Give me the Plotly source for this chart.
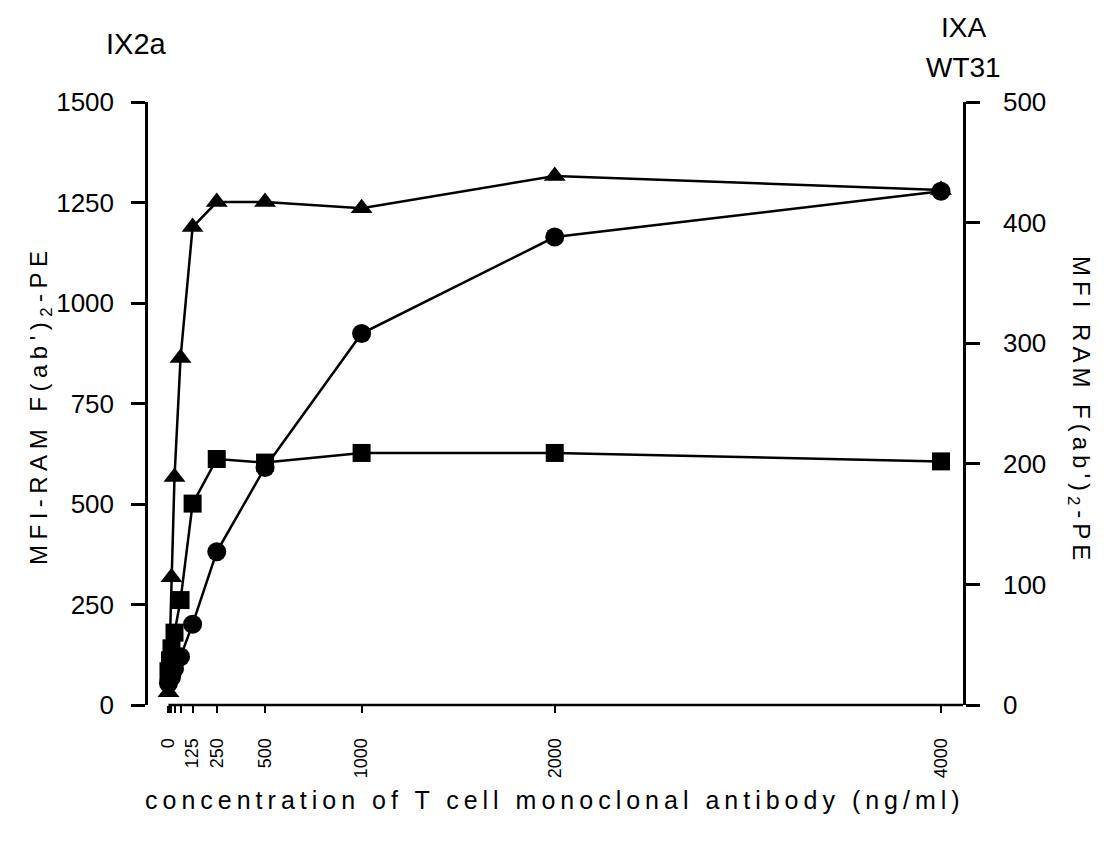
import plotly.graph_objects as go

# concentrations (ng/ml)
conc_tri = [0, 15.6, 31.25, 62.5, 125, 250, 500, 1000, 2000, 4000]
mfi_tri = [32, 318, 567, 863, 1189, 1251, 1251, 1236, 1316, 1281]          # left axis (IX2a)

conc_sq = [0, 7.8, 15.6, 31.25, 62.5, 125, 250, 500, 1000, 2000, 4000]
mfi_sq = [28, 37, 47, 60, 87, 167, 204, 201, 209, 209, 202]                 # right axis

conc_circ = [0, 15.6, 31.25, 62.5, 125, 250, 500, 1000, 2000, 4000]
mfi_circ = [18, 23, 30, 40, 67, 127, 197, 308, 388, 426]                     # right axis

x_major_ticks = [0, 125, 250, 500, 1000, 2000, 4000]
x_major_labels = ["0", "125", "250", "500", "1000", "2000", "4000"]
x_minor_ticks = [7.8, 15.6, 31.25, 62.5]
left_ticks = [0, 250, 500, 750, 1000, 1250, 1500]
right_ticks = [0, 100, 200, 300, 400, 500]

FONT = "Liberation Sans, Arial, sans-serif"


def spaced(t, ls):
    return f'<span style="letter-spacing:{ls}px">{t}</span>'


fig = go.Figure()
fig.add_trace(go.Scatter(x=conc_tri, y=mfi_tri, mode="lines+markers", yaxis="y",
                         line=dict(color="black", width=2.5),
                         marker=dict(symbol="triangle-up", size=19, color="black"),
                         showlegend=False))
fig.add_trace(go.Scatter(x=conc_sq, y=mfi_sq, mode="lines+markers", yaxis="y2",
                         line=dict(color="black", width=2.5),
                         marker=dict(symbol="square", size=18, color="black"),
                         showlegend=False))
fig.add_trace(go.Scatter(x=conc_circ, y=mfi_circ, mode="lines+markers", yaxis="y2",
                         line=dict(color="black", width=2.5),
                         marker=dict(symbol="circle", size=19, color="black"),
                         showlegend=False))

fig.update_layout(
    width=1096, height=836,
    margin=dict(l=140, r=141, t=94, b=139),
    paper_bgcolor="white", plot_bgcolor="white",
    font=dict(family=FONT, color="black"),
    xaxis=dict(range=[-106, 4114], tickvals=x_major_ticks, ticktext=x_major_labels,
               tickangle=-90, ticks="outside", ticklen=7, tickwidth=2, tickcolor="black",
               minor=dict(tickvals=x_minor_ticks, ticks="outside", ticklen=7, tickwidth=2,
                          tickcolor="black", showgrid=False),
               showline=False, showgrid=False, zeroline=False,
               tickfont=dict(size=18, family=FONT), ticklabelstandoff=18),
    yaxis=dict(range=[0, 1500], tickvals=left_ticks, ticks="outside", ticklen=14,
               tickwidth=2.5, tickcolor="black", showline=True, linewidth=2.5, linecolor="black",
               showgrid=False, zeroline=False, tickfont=dict(size=26, family=FONT),
               ticklabelstandoff=12),
    yaxis2=dict(range=[0, 500], tickvals=right_ticks, overlaying="y", side="right",
                ticks="outside", ticklen=14, tickwidth=2.5, tickcolor="black",
                showline=True, linewidth=2.5, linecolor="black",
                showgrid=False, zeroline=False, tickfont=dict(size=26, family=FONT),
                ticklabelstandoff=18),
)

# x-axis line starting at x=0
fig.add_shape(type="line", xref="x", yref="paper", x0=0, x1=4114, y0=0, y1=0,
              line=dict(color="black", width=2.5))

ann = [
    dict(text="IX2a", x=-0.0147, y=1.096, size=29, angle=0),
    dict(text="IXA", x=1.0, y=1.123, size=28, angle=0),
    dict(text="WT31", x=1.0, y=1.058, size=28, angle=0),
    dict(text=spaced("MFI-RAM F(ab')<sub>2</sub>-PE", 5.5), x=-0.1325, y=0.4975, size=24, angle=-90),
    dict(text=spaced("MFI RAM F(ab')<sub>2</sub>-PE", 5), x=1.1436, y=0.489, size=24, angle=90),
    dict(text=spaced("concentration of T cell monoclonal antibody (ng/ml)", 5),
         x=0.4994, y=-0.1575, size=25, angle=0),
]
for a in ann:
    fig.add_annotation(text=a["text"], x=a["x"], y=a["y"], xref="paper", yref="paper",
                       showarrow=False, textangle=a["angle"], xanchor="center", yanchor="middle",
                       font=dict(size=a["size"], family=FONT, color="black"))

fig.write_html("out.html")
